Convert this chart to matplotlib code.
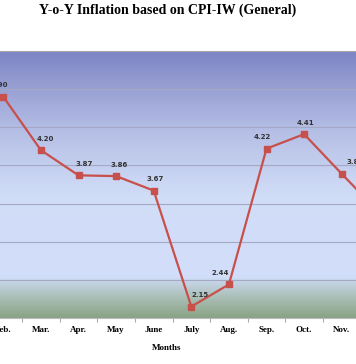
import numpy as np
import matplotlib
matplotlib.use("Agg")
import matplotlib.pyplot as plt
from matplotlib.colors import LinearSegmentedColormap

months = ["Feb.", "Mar.", "Apr.", "May", "June", "July", "Aug.", "Sep.", "Oct.", "Nov.", "Dec."]
inflation = [4.90, 4.20, 3.87, 3.86, 3.67, 2.15, 2.44, 4.22, 4.41, 3.89, 3.38]

# little nudges so labels sit where the original puts them
label_dx = [-3, 3, 4, 2, 1, 6, -6, -3, 1, 10, 0]

fig = plt.figure(figsize=(3.56, 3.64), dpi=100)
ax = fig.add_axes([0, 1 - 318 / 364, 1, 267 / 364])

x = np.arange(len(months))

# background gradient (blue at top, green band at the bottom)
stops = [
    (0.00, (0.54, 0.64, 0.52)),
    (0.07, (0.66, 0.74, 0.70)),
    (0.14, (0.78, 0.84, 0.92)),
    (0.15, (0.82, 0.87, 0.98)),
    (0.45, (0.82, 0.87, 0.97)),
    (0.70, (0.71, 0.75, 0.90)),
    (0.86, (0.60, 0.63, 0.83)),
    (1.00, (0.49, 0.52, 0.77)),
]
cmap = LinearSegmentedColormap.from_list("bg", stops)
grad = np.linspace(1, 0, 256).reshape(-1, 1)
ax.imshow(grad, cmap=cmap, aspect="auto", extent=[0, 1, 0, 1],
          transform=ax.transAxes, zorder=0, vmin=0, vmax=1)

ax.set_yticks(np.arange(2.5, 5.51, 0.5))
ax.yaxis.grid(True, color="#a4a8c4", linewidth=0.8)
ax.set_axisbelow(True)
ax.tick_params(axis="y", left=False, labelleft=False)

ax.plot(x, inflation, color="#c8504c", linewidth=1.6, marker="s",
        markersize=4, zorder=3)

for xi, v, dx in zip(x, inflation, label_dx):
    ax.annotate(f"{v:.2f}", (xi, v), xytext=(dx, 6), textcoords="offset points",
                ha="center", va="bottom", fontsize=5, fontweight="bold",
                color="#333333", family="DejaVu Sans")

ax.set_xticks(x)
ax.set_xticklabels(months, family="Liberation Serif", fontweight="bold", fontsize=6.5)
ax.set_xticks(x[:-1] + 0.5, minor=True)
ax.tick_params(axis="x", which="major", length=0, pad=6)
ax.tick_params(axis="x", which="minor", length=3, color="#aaaaaa", width=0.8)

for s in ["left", "right"]:
    ax.spines[s].set_visible(False)
ax.spines["top"].set_color("#a8a8a8")
ax.spines["bottom"].set_color("#bbbbbb")

# the picture is a crop of a wider chart, so the limits cut off both ends
ax.set_xlim(-0.088, 9.38)
ax.set_ylim(2.0, 5.5)

fig.text(0.468, 1 - 348 / 364, "Months", ha="center", va="center",
         family="Liberation Serif", fontweight="bold", fontsize=6.5)
fig.text(0.472, 1 - 10 / 364, "Y-o-Y Inflation based on CPI-IW (General)",
         ha="center", va="center", family="Liberation Serif",
         fontweight="bold", fontsize=10)

fig.savefig("out.png", dpi=100)
